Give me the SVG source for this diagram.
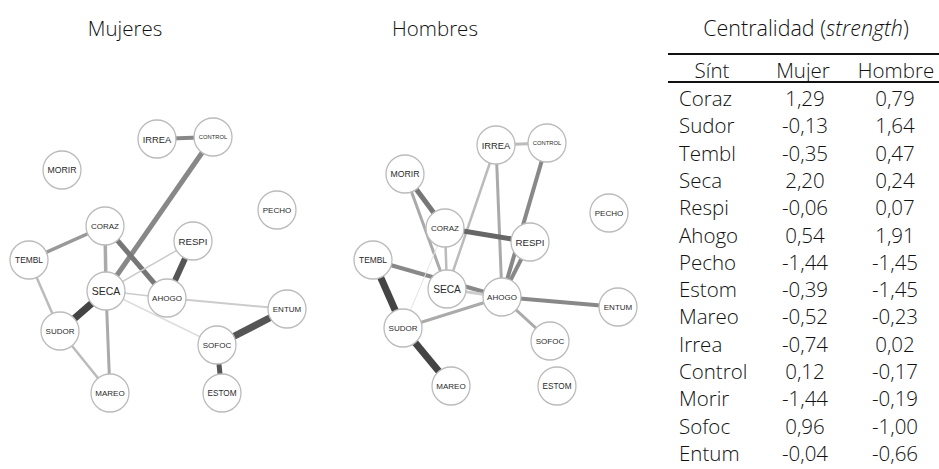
<svg xmlns="http://www.w3.org/2000/svg" width="939" height="469" viewBox="0 0 939 469">
<style>
.n circle{fill:#fff;stroke:#bbb;stroke-width:1.3}
.n text{font-family:"Liberation Sans",Arial,sans-serif;fill:#2a2a2a;text-anchor:middle;dominant-baseline:central}
.e line{stroke-linecap:butt}
.t{font-family:"Open Sans","Noto Sans",sans-serif;font-size:20.5px;font-weight:300;fill:#111}
.c{text-anchor:middle}
</style>
<rect width="939" height="469" fill="#fff"/>
<text class="t c" x="125" y="36" font-size="20">Mujeres</text>
<text class="t c" x="435" y="36" font-size="20">Hombres</text>
<text class="t c" x="806" y="36" style="font-size:21.5px">Centralidad (<tspan font-style="italic">strength</tspan>)</text>

<g id="connectors-mujeres" class="e">
<line x1="157" y1="139" x2="213" y2="137" stroke="#888" stroke-width="4"/>
<line x1="213" y1="137" x2="106" y2="291" stroke="#888" stroke-width="5"/>
<line x1="105" y1="226" x2="167" y2="298" stroke="#777" stroke-width="5"/>
<line x1="105" y1="226" x2="29" y2="260" stroke="#999" stroke-width="3.5"/>
<line x1="105" y1="226" x2="106" y2="291" stroke="#aaa" stroke-width="3.5"/>
<line x1="193" y1="241" x2="167" y2="298" stroke="#555" stroke-width="6"/>
<line x1="193" y1="241" x2="106" y2="291" stroke="#ccc" stroke-width="1.5"/>
<line x1="106" y1="291" x2="167" y2="298" stroke="#ccc" stroke-width="1.5"/>
<line x1="106" y1="291" x2="217" y2="345" stroke="#ddd" stroke-width="1.5"/>
<line x1="167" y1="298" x2="287" y2="309" stroke="#ccc" stroke-width="2"/>
<line x1="106" y1="291" x2="60" y2="331" stroke="#444" stroke-width="7"/>
<line x1="106" y1="291" x2="110" y2="393" stroke="#aaa" stroke-width="3"/>
<line x1="29" y1="260" x2="60" y2="331" stroke="#bbb" stroke-width="2.5"/>
<line x1="60" y1="331" x2="110" y2="393" stroke="#bbb" stroke-width="2.5"/>
<line x1="287" y1="309" x2="217" y2="345" stroke="#555" stroke-width="7"/>
<line x1="217" y1="345" x2="222" y2="393" stroke="#555" stroke-width="5"/>
</g>

<g id="connectors-hombres" class="e">
<line x1="496" y1="145" x2="547" y2="143" stroke="#bbb" stroke-width="3"/>
<line x1="547" y1="143" x2="502" y2="297" stroke="#888" stroke-width="4"/>
<line x1="496" y1="145" x2="502" y2="297" stroke="#aaa" stroke-width="3"/>
<line x1="496" y1="145" x2="447" y2="289" stroke="#bbb" stroke-width="2.5"/>
<line x1="405" y1="174" x2="445" y2="228" stroke="#777" stroke-width="5"/>
<line x1="405" y1="174" x2="447" y2="289" stroke="#aaa" stroke-width="3"/>
<line x1="445" y1="228" x2="530" y2="242" stroke="#666" stroke-width="5"/>
<line x1="445" y1="228" x2="447" y2="289" stroke="#bbb" stroke-width="2.5"/>
<line x1="373" y1="260" x2="502" y2="297" stroke="#888" stroke-width="4"/>
<line x1="403" y1="328" x2="445" y2="228" stroke="#e2e2e2" stroke-width="1"/>
<line x1="447" y1="289" x2="502" y2="297" stroke="#ccc" stroke-width="3"/>
<line x1="403" y1="328" x2="502" y2="297" stroke="#aaa" stroke-width="3"/>
<line x1="373" y1="260" x2="403" y2="328" stroke="#444" stroke-width="7"/>
<line x1="403" y1="328" x2="451" y2="386" stroke="#444" stroke-width="7"/>
<line x1="502" y1="297" x2="618" y2="307" stroke="#888" stroke-width="4"/>
<line x1="502" y1="297" x2="550" y2="341" stroke="#aaa" stroke-width="3"/>
<line x1="530" y1="242" x2="502" y2="297" stroke="#888" stroke-width="4"/>
</g>

<g id="m-morir" class="n"><circle cx="62" cy="170" r="19"/><text x="62" y="170" font-size="8.7">MORIR</text></g>
<g id="m-irrea" class="n"><circle cx="157" cy="139" r="19"/><text x="157" y="139" font-size="9.4">IRREA</text></g>
<g id="m-control" class="n"><circle cx="213" cy="137" r="19"/><text x="213" y="137" font-size="5.8">CONTROL</text></g>
<g id="m-pecho" class="n"><circle cx="277" cy="210" r="19"/><text x="277" y="210" font-size="8">PECHO</text></g>
<g id="m-coraz" class="n"><circle cx="105" cy="226" r="19"/><text x="105" y="226" font-size="8">CORAZ</text></g>
<g id="m-respi" class="n"><circle cx="193" cy="241" r="19"/><text x="193" y="241" font-size="9.7">RESPI</text></g>
<g id="m-tembl" class="n"><circle cx="29" cy="260" r="19"/><text x="29" y="260" font-size="8.4">TEMBL</text></g>
<g id="m-seca" class="n"><circle cx="106" cy="291" r="19"/><text x="106" y="291" font-size="10.5">SECA</text></g>
<g id="m-ahogo" class="n"><circle cx="167" cy="298" r="19"/><text x="167" y="298" font-size="8">AHOGO</text></g>
<g id="m-sudor" class="n"><circle cx="60" cy="331" r="19"/><text x="60" y="331" font-size="8">SUDOR</text></g>
<g id="m-entum" class="n"><circle cx="287" cy="309" r="19"/><text x="287" y="309" font-size="8">ENTUM</text></g>
<g id="m-sofoc" class="n"><circle cx="217" cy="345" r="19"/><text x="217" y="345" font-size="8">SOFOC</text></g>
<g id="m-mareo" class="n"><circle cx="110" cy="393" r="19"/><text x="110" y="393" font-size="8">MAREO</text></g>
<g id="m-estom" class="n"><circle cx="222" cy="393" r="19"/><text x="222" y="393" font-size="8.2">ESTOM</text></g>

<g id="h-morir" class="n"><circle cx="405" cy="174" r="19"/><text x="405" y="174" font-size="8.7">MORIR</text></g>
<g id="h-irrea" class="n"><circle cx="496" cy="145" r="19"/><text x="496" y="145" font-size="9.4">IRREA</text></g>
<g id="h-control" class="n"><circle cx="547" cy="143" r="19"/><text x="547" y="143" font-size="5.8">CONTROL</text></g>
<g id="h-pecho" class="n"><circle cx="609" cy="213" r="19"/><text x="609" y="213" font-size="8">PECHO</text></g>
<g id="h-coraz" class="n"><circle cx="445" cy="228" r="19"/><text x="445" y="228" font-size="8">CORAZ</text></g>
<g id="h-respi" class="n"><circle cx="530" cy="242" r="19"/><text x="530" y="242" font-size="9.7">RESPI</text></g>
<g id="h-tembl" class="n"><circle cx="373" cy="260" r="19"/><text x="373" y="260" font-size="8.4">TEMBL</text></g>
<g id="h-seca" class="n"><circle cx="447" cy="289" r="19"/><text x="447" y="289" font-size="10.2">SECA</text></g>
<g id="h-ahogo" class="n"><circle cx="502" cy="297" r="19"/><text x="502" y="297" font-size="8">AHOGO</text></g>
<g id="h-sudor" class="n"><circle cx="403" cy="328" r="19"/><text x="403" y="328" font-size="8">SUDOR</text></g>
<g id="h-entum" class="n"><circle cx="618" cy="307" r="19"/><text x="618" y="307" font-size="8">ENTUM</text></g>
<g id="h-sofoc" class="n"><circle cx="550" cy="341" r="19"/><text x="550" y="341" font-size="8">SOFOC</text></g>
<g id="h-mareo" class="n"><circle cx="451" cy="386" r="19"/><text x="451" y="386" font-size="8">MAREO</text></g>
<g id="h-estom" class="n"><circle cx="557" cy="386" r="19"/><text x="557" y="386" font-size="8.2">ESTOM</text></g>

<g id="table">
<line x1="668" y1="54" x2="939" y2="54" stroke="#111" stroke-width="2"/>
<line x1="668" y1="82" x2="939" y2="82" stroke="#111" stroke-width="1.8"/>
<text class="t c" x="712" y="77.5">Sínt</text>
<text class="t c" x="803" y="77.5">Mujer</text>
<text class="t c" x="896" y="77.5">Hombre</text>
<g class="t">
<text x="679" y="106">Coraz</text>
<text x="679" y="133.3">Sudor</text>
<text x="679" y="160.6">Tembl</text>
<text x="679" y="187.9">Seca</text>
<text x="679" y="215.2">Respi</text>
<text x="679" y="242.5">Ahogo</text>
<text x="679" y="269.8">Pecho</text>
<text x="679" y="297.1">Estom</text>
<text x="679" y="324.4">Mareo</text>
<text x="679" y="351.7">Irrea</text>
<text x="679" y="379">Control</text>
<text x="679" y="406.3">Morir</text>
<text x="679" y="433.6">Sofoc</text>
<text x="679" y="460.9">Entum</text>
</g>
<g class="t c">
<text x="805" y="106">1,29</text>
<text x="805" y="133.3">-0,13</text>
<text x="805" y="160.6">-0,35</text>
<text x="805" y="187.9">2,20</text>
<text x="805" y="215.2">-0,06</text>
<text x="805" y="242.5">0,54</text>
<text x="805" y="269.8">-1,44</text>
<text x="805" y="297.1">-0,39</text>
<text x="805" y="324.4">-0,52</text>
<text x="805" y="351.7">-0,74</text>
<text x="805" y="379">0,12</text>
<text x="805" y="406.3">-1,44</text>
<text x="805" y="433.6">0,96</text>
<text x="805" y="460.9">-0,04</text>
<text x="895" y="106">0,79</text>
<text x="895" y="133.3">1,64</text>
<text x="895" y="160.6">0,47</text>
<text x="895" y="187.9">0,24</text>
<text x="895" y="215.2">0,07</text>
<text x="895" y="242.5">1,91</text>
<text x="895" y="269.8">-1,45</text>
<text x="895" y="297.1">-1,45</text>
<text x="895" y="324.4">-0,23</text>
<text x="895" y="351.7">0,02</text>
<text x="895" y="379">-0,17</text>
<text x="895" y="406.3">-0,19</text>
<text x="895" y="433.6">-1,00</text>
<text x="895" y="460.9">-0,66</text>
</g>
</g>
</svg>
